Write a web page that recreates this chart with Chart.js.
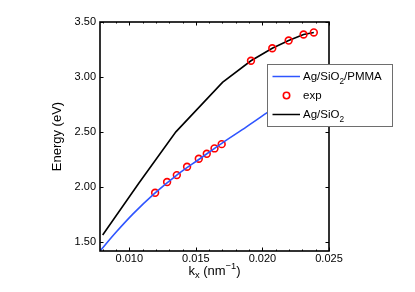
<!DOCTYPE html>
<html>
<head>
<meta charset="utf-8">
<script src="https://cdn.jsdelivr.net/npm/chart.js@4/dist/chart.umd.min.js"></script>
<style>
  html, body { margin: 0; padding: 0; background: #fff; }
  #wrap { width: 415px; height: 292px; position: relative; }
</style>
</head>
<body>
<div id="wrap"><canvas id="c" width="415" height="292"></canvas></div>
<script>
// ---- data ----
const kxPMMA = [0.0078, 0.0090, 0.0103, 0.0119, 0.0135, 0.0153, 0.0170, 0.0188, 0.0203, 0.0220, 0.0235, 0.0250];
const ePMMA  = [1.415, 1.585, 1.755, 1.940, 2.100, 2.255, 2.400, 2.545, 2.670, 2.805, 2.920, 3.030];

const kxSiO2 = [0.0080, 0.0107, 0.0135, 0.0170, 0.01914, 0.02074, 0.02197, 0.02309, 0.02386];
const eSiO2  = [1.560, 2.030, 2.500, 2.950, 3.147, 3.261, 3.331, 3.386, 3.405];

const kxExp = [0.01194, 0.01284, 0.01357, 0.01434, 0.01522, 0.01582, 0.01640, 0.01694, 0.01914, 0.02074, 0.02197, 0.02309, 0.02386];
const eExp  = [1.945, 2.043, 2.106, 2.182, 2.255, 2.300, 2.349, 2.388, 3.147, 3.261, 3.331, 3.386, 3.405];

const xTicks = [0.010, 0.015, 0.020, 0.025];
const yTicks = [1.50, 2.00, 2.50, 3.00, 3.50];
const xMinorTicks = [0.008,0.009,0.010,0.011,0.012,0.013,0.014,0.015,0.016,0.017,0.018,0.019,0.020,0.021,0.022,0.023,0.024,0.025];

const seriesNames = ['Ag/SiO|2|/PMMA', 'exp', 'Ag/SiO|2|'];
const xTitleParts = ['k', 'x', ' (nm', '\u22121', ')'];
const yTitle = 'Energy (eV)';

const FONT = "'Liberation Sans', Arial, Helvetica, sans-serif";
const BLUE = '#2f55ff';
const RED = '#ff0000';

const toXY = (xs, ys) => xs.map((v, i) => ({ x: v, y: ys[i] }));

// draws text with "a|sub|b" subscript markup
function drawSubText(ctx, str, x, y, size) {
  const parts = str.split('|');
  let cx = x;
  parts.forEach((p, i) => {
    const sub = i % 2 === 1;
    ctx.font = (sub ? size * 0.72 : size) + 'px ' + FONT;
    ctx.fillText(p, cx, sub ? y + size * 0.3 : y);
    cx += ctx.measureText(p).width;
  });
}

const matlabStyle = {
  id: 'matlabStyle',
  afterDatasetsDraw(chart) {
    const { ctx, chartArea: a, scales: { x, y } } = chart;
    ctx.save();
    ctx.strokeStyle = '#000';
    ctx.lineWidth = 1;
    // x minor + major ticks (inward, bottom & top)
    ctx.beginPath();
    xMinorTicks.forEach(v => {
      const px = Math.round(x.getPixelForValue(v)) + 0.5;
      if (px < a.left - 0.5 || px > a.right + 0.5) return;
      const major = xTicks.some(t => Math.abs(t - v) < 1e-9);
      const len = major ? 3.5 : 1.5;
      ctx.moveTo(px, a.bottom); ctx.lineTo(px, a.bottom - len);
      ctx.moveTo(px, a.top); ctx.lineTo(px, a.top + len);
    });
    // y major ticks (inward, left & right)
    yTicks.forEach(v => {
      const py = Math.round(y.getPixelForValue(v)) + 0.5;
      ctx.moveTo(a.left, py); ctx.lineTo(a.left + 3.5, py);
      ctx.moveTo(a.right, py); ctx.lineTo(a.right - 3.5, py);
    });
    ctx.stroke();
    // box
    ctx.lineWidth = 1.6;
    ctx.strokeRect(a.left, a.top, a.right - a.left, a.bottom - a.top);

    // x axis title k_x (nm^-1)
    const fs = 13;
    ctx.fillStyle = '#000';
    ctx.textBaseline = 'alphabetic';
    ctx.textAlign = 'left';
    const sizes = [fs, fs * 0.72, fs, fs * 0.72, fs];
    const offs = [0, fs * 0.3, 0, -fs * 0.42, 0];
    let total = 0;
    xTitleParts.forEach((p, i) => { ctx.font = sizes[i] + 'px ' + FONT; total += ctx.measureText(p).width; });
    let cx = (a.left + a.right) / 2 - total / 2;
    const by = a.bottom + 23.5;
    xTitleParts.forEach((p, i) => {
      ctx.font = sizes[i] + 'px ' + FONT;
      ctx.fillText(p, cx, by + offs[i]);
      cx += ctx.measureText(p).width;
    });

    // legend
    const lx = a.right - 62, ly = a.top + 42, lw = 125, lh = 62;
    ctx.fillStyle = '#fff';
    ctx.fillRect(lx, ly, lw, lh);
    ctx.strokeStyle = '#6e6e6e';
    ctx.lineWidth = 1;
    ctx.strokeRect(lx + 0.5, ly + 0.5, lw, lh);
    const rows = [12.5, 31.5, 50.5];
    const ds = chart.data.datasets;
    rows.forEach((ry, i) => {
      const yy = ly + ry;
      const d = ds[i];
      if (i === 1) {
        ctx.strokeStyle = RED; ctx.lineWidth = 1.6;
        ctx.beginPath(); ctx.arc(lx + 19.5, yy, 3.2, 0, Math.PI * 2); ctx.stroke();
      } else {
        ctx.strokeStyle = d.borderColor; ctx.lineWidth = 1.5;
        ctx.beginPath(); ctx.moveTo(lx + 5.5, yy); ctx.lineTo(lx + 33, yy); ctx.stroke();
      }
      ctx.fillStyle = '#000';
      drawSubText(ctx, seriesNames[i], lx + 36, yy + 3.6, 11.5);
    });
    ctx.restore();
  }
};

new Chart(document.getElementById('c'), {
  type: 'line',
  data: {
    datasets: [
      { label: 'Ag/SiO2/PMMA', data: toXY(kxPMMA, ePMMA), borderColor: BLUE, borderWidth: 1.6,
        pointRadius: 0, fill: false, cubicInterpolationMode: 'monotone' },
      { label: 'exp', data: toXY(kxExp, eExp), showLine: false, borderColor: RED, backgroundColor: 'rgba(0,0,0,0)',
        pointRadius: 3.4, pointBorderWidth: 1.6, pointStyle: 'circle', pointBorderColor: RED, pointBackgroundColor: 'rgba(0,0,0,0)' },
      { label: 'Ag/SiO2', data: toXY(kxSiO2, eSiO2), borderColor: '#000', borderWidth: 1.6,
        pointRadius: 0, fill: false, tension: 0 }
    ]
  },
  plugins: [matlabStyle],
  options: {
    responsive: false,
    animation: false,
    events: [],
    layout: { padding: { left: 46, top: 22, right: 86, bottom: 0 } },
    plugins: { legend: { display: false }, tooltip: { enabled: false } },
    scales: {
      x: {
        type: 'linear', min: 0.0078, max: 0.025,
        grid: { display: false, drawTicks: false }, border: { display: false },
        afterBuildTicks: s => { s.ticks = xTicks.map(v => ({ value: v })); },
        afterFit: s => { s.height = 41; },
        ticks: { padding: 1, color: '#000', font: { family: FONT, size: 11 }, maxRotation: 0,
                 callback: v => Number(v).toFixed(3) }
      },
      y: {
        type: 'linear', min: 1.415, max: 3.5,
        grid: { display: false, drawTicks: false }, border: { display: false },
        afterBuildTicks: s => { s.ticks = yTicks.map(v => ({ value: v })); },
        afterFit: s => { s.width = 54; },
        ticks: { padding: 4, color: '#000', font: { family: FONT, size: 11 },
                 callback: v => Number(v).toFixed(2) },
        title: { display: true, text: yTitle, color: '#000', font: { family: FONT, size: 13 } }
      }
    }
  }
});
</script>
</body>
</html>
